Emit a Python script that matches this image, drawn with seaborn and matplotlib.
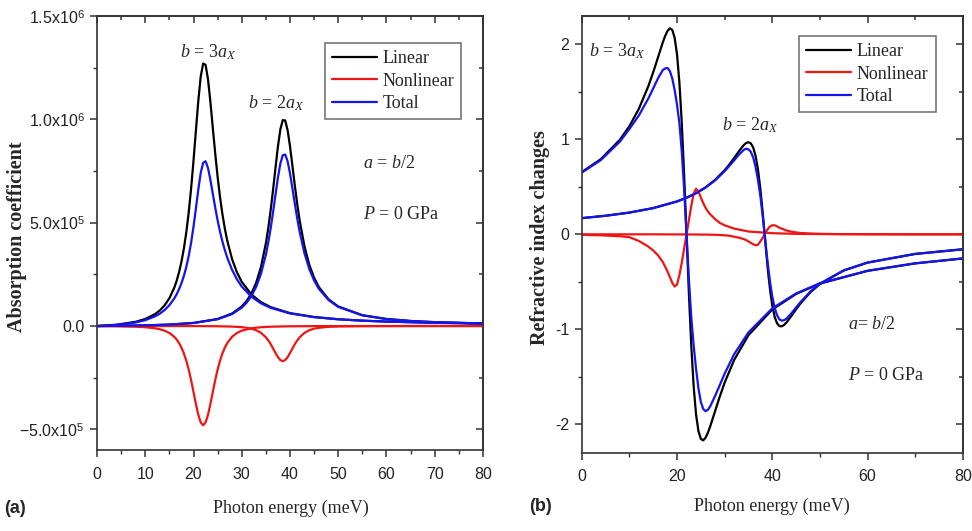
import matplotlib
matplotlib.use("Agg")
import matplotlib.pyplot as plt
import numpy as np
import pandas as pd
import seaborn as sns
from matplotlib.lines import Line2D
from matplotlib.ticker import MultipleLocator

# ---------------- data ----------------
COMPONENTS = ["Linear", "Nonlinear", "Total"]
COLORS = ["#000000", "#ee1515", "#1414f0"]
CASES = ["b = 3a_X", "b = 2a_X"]

ABS_SCALE = 1e5  # absorption values below are in units of 1e5

# (a) absorption coefficient, case b = 3a_X
E_abs_b3 = [0, 4, 8, 10, 12, 13, 14, 15, 16, 16.5, 17, 17.5, 18, 18.5, 19, 19.5, 20,
            20.5, 21, 21.5, 22, 22.5, 23, 23.5, 24, 24.5, 25, 25.5, 26, 26.5, 27, 28, 29,
            30, 32, 34, 36, 40, 45, 50, 55, 60, 70, 80]
abs_lin_b3 = [0, 0.062, 0.203, 0.340, 0.572, 0.750, 0.996, 1.344, 1.847, 2.184, 2.598,
              3.109, 3.741, 4.523, 5.484, 6.644, 7.993, 9.467, 10.91, 12.08, 12.70, 12.64,
              11.95, 10.85, 9.59, 8.35, 7.216, 6.234, 5.403, 4.707, 4.126, 3.233, 2.598,
              2.136, 1.525, 1.155, 0.912, 0.624, 0.435, 0.328, 0.260, 0.215, 0.157, 0.123]
abs_nl_b3 = [-0.006, -0.013, -0.033, -0.057, -0.108, -0.154, -0.224, -0.336, -0.519,
             -0.651, -0.821, -1.040, -1.320, -1.672, -2.104, -2.617, -3.189, -3.775,
             -4.299, -4.667, -4.8, -4.667, -4.299, -3.775, -3.189, -2.617, -2.104, -1.672,
             -1.320, -1.040, -0.821, -0.519, -0.336, -0.224, -0.108, -0.057, -0.033,
             -0.013, -0.005, -0.003, -0.001, -0.001, 0, 0]
abs_tot_b3 = [-0.006, 0.049, 0.170, 0.283, 0.464, 0.596, 0.772, 1.008, 1.328, 1.533,
              1.777, 2.069, 2.421, 2.851, 3.380, 4.027, 4.804, 5.692, 6.611, 7.413, 7.900,
              7.973, 7.651, 7.075, 6.401, 5.733, 5.112, 4.562, 4.083, 3.667, 3.305, 2.714,
              2.262, 1.912, 1.417, 1.098, 0.879, 0.611, 0.430, 0.325, 0.259, 0.214, 0.157,
              0.123]

# (a) absorption coefficient, case b = 2a_X
E_abs_b2 = [0, 5, 10, 15, 20, 25, 28, 30, 31, 32, 33, 34, 35, 35.5, 36, 36.5, 37, 37.5,
            38, 38.5, 39, 39.5, 40, 40.5, 41, 41.5, 42, 43, 44, 45, 46, 48, 50, 55, 60,
            65, 70, 80]
abs_lin_b2 = [0, 0.012, 0.032, 0.070, 0.149, 0.340, 0.606, 0.945, 1.209, 1.578, 2.105,
              2.872, 4.002, 4.745, 5.618, 6.610, 7.668, 8.688, 9.511, 9.964, 9.948, 9.483,
              8.698, 7.757, 6.798, 5.903, 5.111, 3.854, 2.963, 2.332, 1.877, 1.292, 0.946,
              0.523, 0.340, 0.244, 0.186, 0.123]
abs_nl_b2 = [0, 0, -0.001, -0.001, -0.003, -0.011, -0.027, -0.056, -0.083, -0.128,
             -0.203, -0.331, -0.545, -0.696, -0.879, -1.088, -1.307, -1.506, -1.648, -1.700,
             -1.648, -1.506, -1.307, -1.088, -0.879, -0.696, -0.545, -0.331, -0.203,
             -0.128, -0.083, -0.038, -0.020, -0.005, -0.002, -0.001, 0, 0]
abs_tot_b2 = [0, 0.012, 0.031, 0.069, 0.146, 0.329, 0.579, 0.889, 1.126, 1.450, 1.902,
              2.541, 3.457, 4.049, 4.739, 5.522, 6.361, 7.182, 7.863, 8.264, 8.300, 7.977,
              7.391, 6.669, 5.919, 5.207, 4.566, 3.523, 2.760, 2.204, 1.794, 1.254, 0.926,
              0.518, 0.338, 0.243, 0.186, 0.123]

# (b) refractive index changes, case b = 3a_X
E_ref_b3 = [0, 4, 8, 10, 12, 14, 15, 16, 17, 17.5, 18, 18.5, 19, 19.5, 20, 20.5, 21,
            21.5, 22, 22.5, 23, 23.5, 24, 24.5, 25, 25.5, 26, 26.5, 27, 28, 29, 30, 32,
            35, 40, 45, 50, 60, 70, 80]
ref_lin_b3 = [0.655, 0.792, 0.996, 1.139, 1.323, 1.563, 1.706, 1.862, 2.019, 2.088,
              2.142, 2.170, 2.154, 2.072, 1.897, 1.603, 1.175, 0.625, 0, -0.625, -1.175,
              -1.603, -1.897, -2.072, -2.154, -2.170, -2.142, -2.088, -2.019, -1.862,
              -1.706, -1.563, -1.323, -1.063, -0.792, -0.628, -0.519, -0.385, -0.306,
              -0.254]
ref_nl_b3 = [-0.005, -0.01, -0.02, -0.03, -0.07, -0.13, -0.17, -0.22, -0.29, -0.34,
             -0.39, -0.45, -0.51, -0.55, -0.53, -0.43, -0.30, -0.15, 0, 0.15, 0.30, 0.43,
             0.48, 0.45, 0.39, 0.33, 0.28, 0.24, 0.21, 0.16, 0.12, 0.095, 0.06, 0.03,
             0.012, 0.005, 0.003, 0.001, 0, 0]
ref_tot_b3 = [0.650, 0.782, 0.976, 1.109, 1.253, 1.433, 1.536, 1.642, 1.729, 1.748,
              1.752, 1.720, 1.644, 1.522, 1.367, 1.173, 0.875, 0.475, 0, -0.475, -0.875,
              -1.173, -1.417, -1.622, -1.764, -1.840, -1.862, -1.848, -1.809, -1.702,
              -1.586, -1.468, -1.263, -1.033, -0.780, -0.623, -0.516, -0.384, -0.306,
              -0.254]

# (b) refractive index changes, case b = 2a_X
E_ref_b2 = [0, 5, 10, 15, 20, 22, 24, 26, 28, 30, 31, 32, 33, 34, 34.5, 35, 35.5, 36,
            36.5, 37, 37.5, 38, 38.4, 38.8, 39.2, 39.6, 40, 40.5, 41, 41.5, 42, 42.5, 43,
            44, 45, 46, 48, 50, 55, 60, 70, 80]
ref_lin_b2 = [0.1705, 0.1956, 0.2291, 0.2762, 0.3469, 0.3859, 0.4342, 0.4951, 0.5734,
              0.6751, 0.7364, 0.8043, 0.8752, 0.9392, 0.9615, 0.9706, 0.9584, 0.9145,
              0.8266, 0.6834, 0.4802, 0.2253, 0, -0.2253, -0.4328, -0.6092, -0.7479,
              -0.8679, -0.9367, -0.9665, -0.969, -0.9538, -0.9279, -0.8611, -0.7903,
              -0.7236, -0.6109, -0.5240, -0.3816, -0.2982, -0.2065, -0.1576]
ref_nl_b2 = [0, 0, 0, 0, -0.001, -0.001, -0.002, -0.003, -0.005, -0.010, -0.015, -0.025,
             -0.035, -0.050, -0.060, -0.075, -0.090, -0.105, -0.115, -0.110, -0.075,
             -0.035, 0, 0.035, 0.065, 0.085, 0.095, 0.095, 0.085, 0.070, 0.060, 0.050,
             0.040, 0.028, 0.020, 0.014, 0.008, 0.005, 0.002, 0.001, 0, 0]
ref_tot_b2 = [0.1705, 0.1956, 0.2291, 0.2762, 0.3459, 0.3849, 0.4322, 0.4921, 0.5684,
              0.6651, 0.7214, 0.7793, 0.8402, 0.8892, 0.9015, 0.8956, 0.8684, 0.8095,
              0.7116, 0.5734, 0.4052, 0.1903, 0, -0.1903, -0.3678, -0.5242, -0.6529,
              -0.7729, -0.8517, -0.8965, -0.909, -0.9038, -0.8879, -0.8331, -0.7703,
              -0.7096, -0.6029, -0.5190, -0.3796, -0.2972, -0.2065, -0.1576]

abs_yticks = [-5e5, 0, 5e5, 1e6, 1.5e6]
abs_yticklabels = ["\u22125.0x10$^{5}$", "0.0", "5.0x10$^{5}$", "1.0x10$^{6}$", "1.5x10$^{6}$"]
ref_yticks = [-2, -1, 0, 1, 2]
ref_yticklabels = ["-2", "-1", "0", "1", "2"]


def long_form(E, series, case, scale=1.0):
    frames = []
    for comp, vals in zip(COMPONENTS, series):
        frames.append(pd.DataFrame({"E": E, "value": np.asarray(vals) * scale,
                                    "component": comp, "case": case}))
    return frames


df_abs = pd.concat(
    long_form(E_abs_b3, [abs_lin_b3, abs_nl_b3, abs_tot_b3], CASES[0], ABS_SCALE)
    + long_form(E_abs_b2, [abs_lin_b2, abs_nl_b2, abs_tot_b2], CASES[1], ABS_SCALE),
    ignore_index=True)
df_ref = pd.concat(
    long_form(E_ref_b3, [ref_lin_b3, ref_nl_b3, ref_tot_b3], CASES[0])
    + long_form(E_ref_b2, [ref_lin_b2, ref_nl_b2, ref_tot_b2], CASES[1]),
    ignore_index=True)

# ---------------- style ----------------
sns.set_style("ticks")
plt.rcParams["font.family"] = ["Liberation Serif", "DejaVu Serif"]
plt.rcParams["mathtext.fontset"] = "custom"
plt.rcParams["mathtext.rm"] = "Liberation Sans"
plt.rcParams["mathtext.it"] = "Liberation Serif:italic"
plt.rcParams["mathtext.bf"] = "Liberation Sans:bold"

FRAME = "#333333"
SANS = "Liberation Sans"
TICK_FS = 11.5
LABEL_FS = 13
YLABEL_FS = 14.5
ANNOT_FS = 13

fig = plt.figure(figsize=(9.72, 5.31), dpi=100)
ax1 = fig.add_axes([0.0998, 0.1525, 0.3971, 0.8173])
ax2 = fig.add_axes([0.5985, 0.1475, 0.3920, 0.8224])

palette = dict(zip(COMPONENTS, COLORS))
for ax, df in ((ax1, df_abs), (ax2, df_ref)):
    sns.lineplot(data=df, x="E", y="value", hue="component", units="case",
                 estimator=None, sort=False, hue_order=COMPONENTS, palette=palette,
                 linewidth=1.6, legend=False, ax=ax)


def style_axes(ax, xmaj, xmin, ymin_step):
    for s in ax.spines.values():
        s.set_color(FRAME)
        s.set_linewidth(1.2)
    ax.xaxis.set_minor_locator(MultipleLocator(xmin))
    ax.yaxis.set_minor_locator(MultipleLocator(ymin_step))
    ax.tick_params(which="major", direction="out", length=5, width=1.1, color=FRAME,
                   labelsize=TICK_FS, labelfontfamily=SANS, labelcolor="#222222")
    ax.tick_params(which="minor", direction="out", length=3, width=1.0, color=FRAME)
    ax.tick_params(axis="x", pad=7)
    ax.tick_params(axis="y", pad=4)
    top = ax.secondary_xaxis("top")
    top.xaxis.set_major_locator(MultipleLocator(xmaj))
    top.xaxis.set_minor_locator(MultipleLocator(xmin))
    top.tick_params(which="both", direction="in", labeltop=False, color=FRAME, width=1.1)
    top.tick_params(which="major", length=5)
    top.tick_params(which="minor", length=3)
    right = ax.secondary_yaxis("right")
    right.set_yticks(ax.get_yticks())
    right.yaxis.set_minor_locator(MultipleLocator(ymin_step))
    right.tick_params(which="both", direction="in", labelright=False, color=FRAME, width=1.1)
    right.tick_params(which="major", length=5)
    right.tick_params(which="minor", length=3)
    for sec in (top, right):
        for s in sec.spines.values():
            s.set_color(FRAME)
            s.set_linewidth(1.2)


# panel (a)
ax1.set_xlim(0, 80)
ax1.set_ylim(-6e5, 1.5e6)
ax1.set_xticks(range(0, 81, 10))
ax1.set_yticks(abs_yticks)
ax1.set_yticklabels(abs_yticklabels)
style_axes(ax1, 10, 5, 2.5e5)

# panel (b)
ax2.set_xlim(0, 80)
ax2.set_ylim(-2.3, 2.3)
ax2.set_xticks(range(0, 81, 20))
ax2.set_yticks(ref_yticks)
ax2.set_yticklabels(ref_yticklabels)
style_axes(ax2, 20, 10, 0.5)

# axis labels
ax1.set_xlabel("Photon energy (meV)", fontsize=LABEL_FS)
ax1.xaxis.set_label_coords(0.501, -0.115)
ax1.set_ylabel("Absorption coefficient", fontsize=YLABEL_FS, fontweight="bold")
ax1.yaxis.set_label_coords(-0.181, 0.492)
ax2.set_xlabel("Photon energy (meV)", fontsize=LABEL_FS)
ax2.xaxis.set_label_coords(0.4995, -0.104)
ax2.set_ylabel("Refractive index changes", fontsize=YLABEL_FS, fontweight="bold")
ax2.yaxis.set_label_coords(-0.083, 0.4916)

# legends
handles = [Line2D([], [], color=c, lw=1.6) for c in COLORS]
for ax, anchor in ((ax1, (0.59, 0.938)), (ax2, (0.570, 0.954))):
    leg = ax.legend(handles, COMPONENTS, loc="upper left", bbox_to_anchor=anchor,
                    frameon=True, fancybox=False, edgecolor="#777777", framealpha=1,
                    fontsize=13, handlelength=2.5, handletextpad=0.3, labelspacing=0.3,
                    borderpad=0.4, borderaxespad=0)
    leg.get_frame().set_linewidth(1.2)

# annotations, panel (a)
ax1.text(17.2, 1.30e6, "$b$ = 3$a_{X}$", fontsize=ANNOT_FS, va="baseline", ha="left")
ax1.text(31.3, 1.053e6, "$b$ = 2$a_{X}$", fontsize=ANNOT_FS, va="baseline", ha="left")
ax1.text(55.1, 7.67e5, "$a$ = $b$/2", fontsize=ANNOT_FS, va="baseline", ha="left")
ax1.text(55.1, 5.19e5, "$P$ = 0 GPa", fontsize=ANNOT_FS, va="baseline", ha="left")

# annotations, panel (b)
ax2.text(1.5, 1.877, "$b$ = 3$a_{X}$", fontsize=ANNOT_FS, va="baseline", ha="left")
ax2.text(29.4, 1.098, "$b$ = 2$a_{X}$", fontsize=ANNOT_FS, va="baseline", ha="left")
ax2.text(56.0, -0.993, "$a$= $b$/2", fontsize=ANNOT_FS, va="baseline", ha="left")
ax2.text(56.0, -1.537, "$P$ = 0 GPa", fontsize=ANNOT_FS, va="baseline", ha="left")

fig.text(0.004, 0.034, "(a)", fontfamily=SANS, fontweight="bold", fontsize=13, va="baseline")
fig.text(0.544, 0.038, "(b)", fontfamily=SANS, fontweight="bold", fontsize=13, va="baseline")

fig.savefig("out.png", dpi=100)
